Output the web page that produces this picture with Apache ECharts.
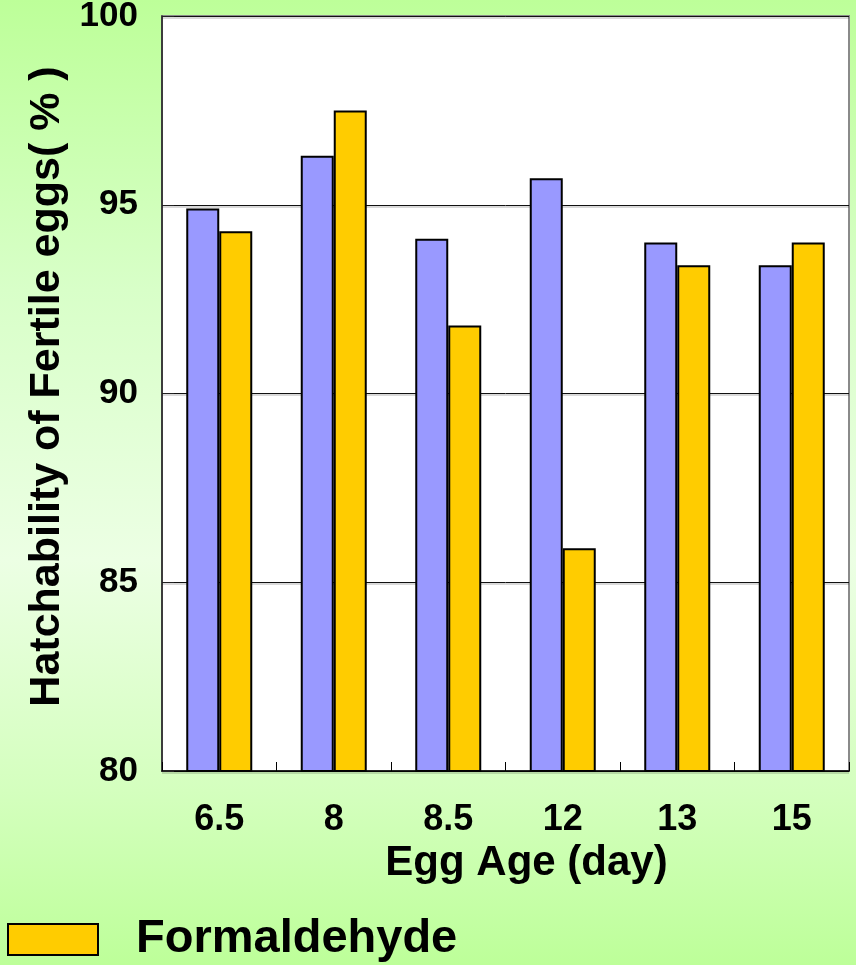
<!DOCTYPE html>
<html>
<head>
<meta charset="utf-8">
<script src="https://cdn.jsdelivr.net/npm/echarts@6/dist/echarts.min.js"></script>
<style>
html,body{margin:0;padding:0;}
#main{width:856px;height:965px;background:linear-gradient(to bottom,#bdff99 0%,#d8ffc8 30%,#ecffe4 58%,#d4ffbe 82%,#bdff99 100%);}
</style>
</head>
<body>
<div id="main"></div>
<script>
var categories = ['6.5', '8', '8.5', '12', '13', '15'];
var control = [94.9, 96.3, 94.1, 95.7, 94.0, 93.4];
var formaldehyde = [94.3, 97.5, 91.8, 85.9, 93.4, 94.0];
var yMin = 80, yMax = 100, yStep = 5;

var FONT = '"Liberation Sans", Arial, sans-serif';
var chart = echarts.init(document.getElementById('main'), null, {renderer: 'canvas'});
chart.setOption({
  backgroundColor: 'transparent',
  animation: false,
  grid: {
    left: 162, right: 7, top: 16, bottom: 194,
    outerBoundsMode: 'none', containLabel: false,
    show: true, backgroundColor: '#ffffff',
    borderColor: '#8a8a8a', borderWidth: 2
  },
  legend: {
    data: ['Formaldehyde'],
    left: 2, top: 911,
    itemWidth: 90, itemHeight: 31,
    icon: 'rect',
    textStyle: {fontFamily: FONT, fontWeight: 'bold', fontSize: 47, color: '#000', padding: [4, 0, 0, 33]}
  },
  xAxis: {
    type: 'category',
    data: categories,
    name: 'Egg Age (day)',
    nameLocation: 'middle',
    nameGap: 68,
    nameTextStyle: {fontFamily: FONT, fontWeight: 'bold', fontSize: 42, color: '#000', padding: [0, 0, 0, 42]},
    axisLine: {lineStyle: {color: '#000', width: 1.5}},
    axisTick: {show: true, inside: true, length: 9, lineStyle: {color: '#000'}},
    axisLabel: {fontFamily: FONT, fontWeight: 'bold', fontSize: 36, color: '#000', margin: 31}
  },
  yAxis: {
    type: 'value',
    min: yMin, max: yMax, interval: yStep,
    name: 'Hatchability of Fertile eggs( % )',
    nameLocation: 'middle',
    nameRotate: 90,
    nameGap: 89,
    nameTextStyle: {fontFamily: FONT, fontWeight: 'bold', fontSize: 43, color: '#000', padding: [0, 0, 0, 14]},
    axisLine: {show: true, lineStyle: {color: '#222', width: 1.5}},
    axisTick: {show: true, inside: true, length: 12, lineStyle: {color: '#222'}},
    axisLabel: {fontFamily: FONT, fontWeight: 'bold', fontSize: 35, color: '#000', margin: 24},
    splitLine: {show: true, lineStyle: {color: '#111', width: 1, shadowColor: 'rgba(0,0,0,0.3)', shadowOffsetY: 1.5, shadowBlur: 0}}
  },
  series: [
    {
      name: 'Control', type: 'bar', data: control,
      barWidth: 33, barGap: '0%',
      itemStyle: {color: '#9999ff', borderColor: '#000', borderWidth: 2}
    },
    {
      name: 'Formaldehyde', type: 'bar', data: formaldehyde,
      barWidth: 33, barGap: '0%',
      itemStyle: {color: '#ffcc00', borderColor: '#000', borderWidth: 2}
    }
  ]
});
</script>
</body>
</html>
